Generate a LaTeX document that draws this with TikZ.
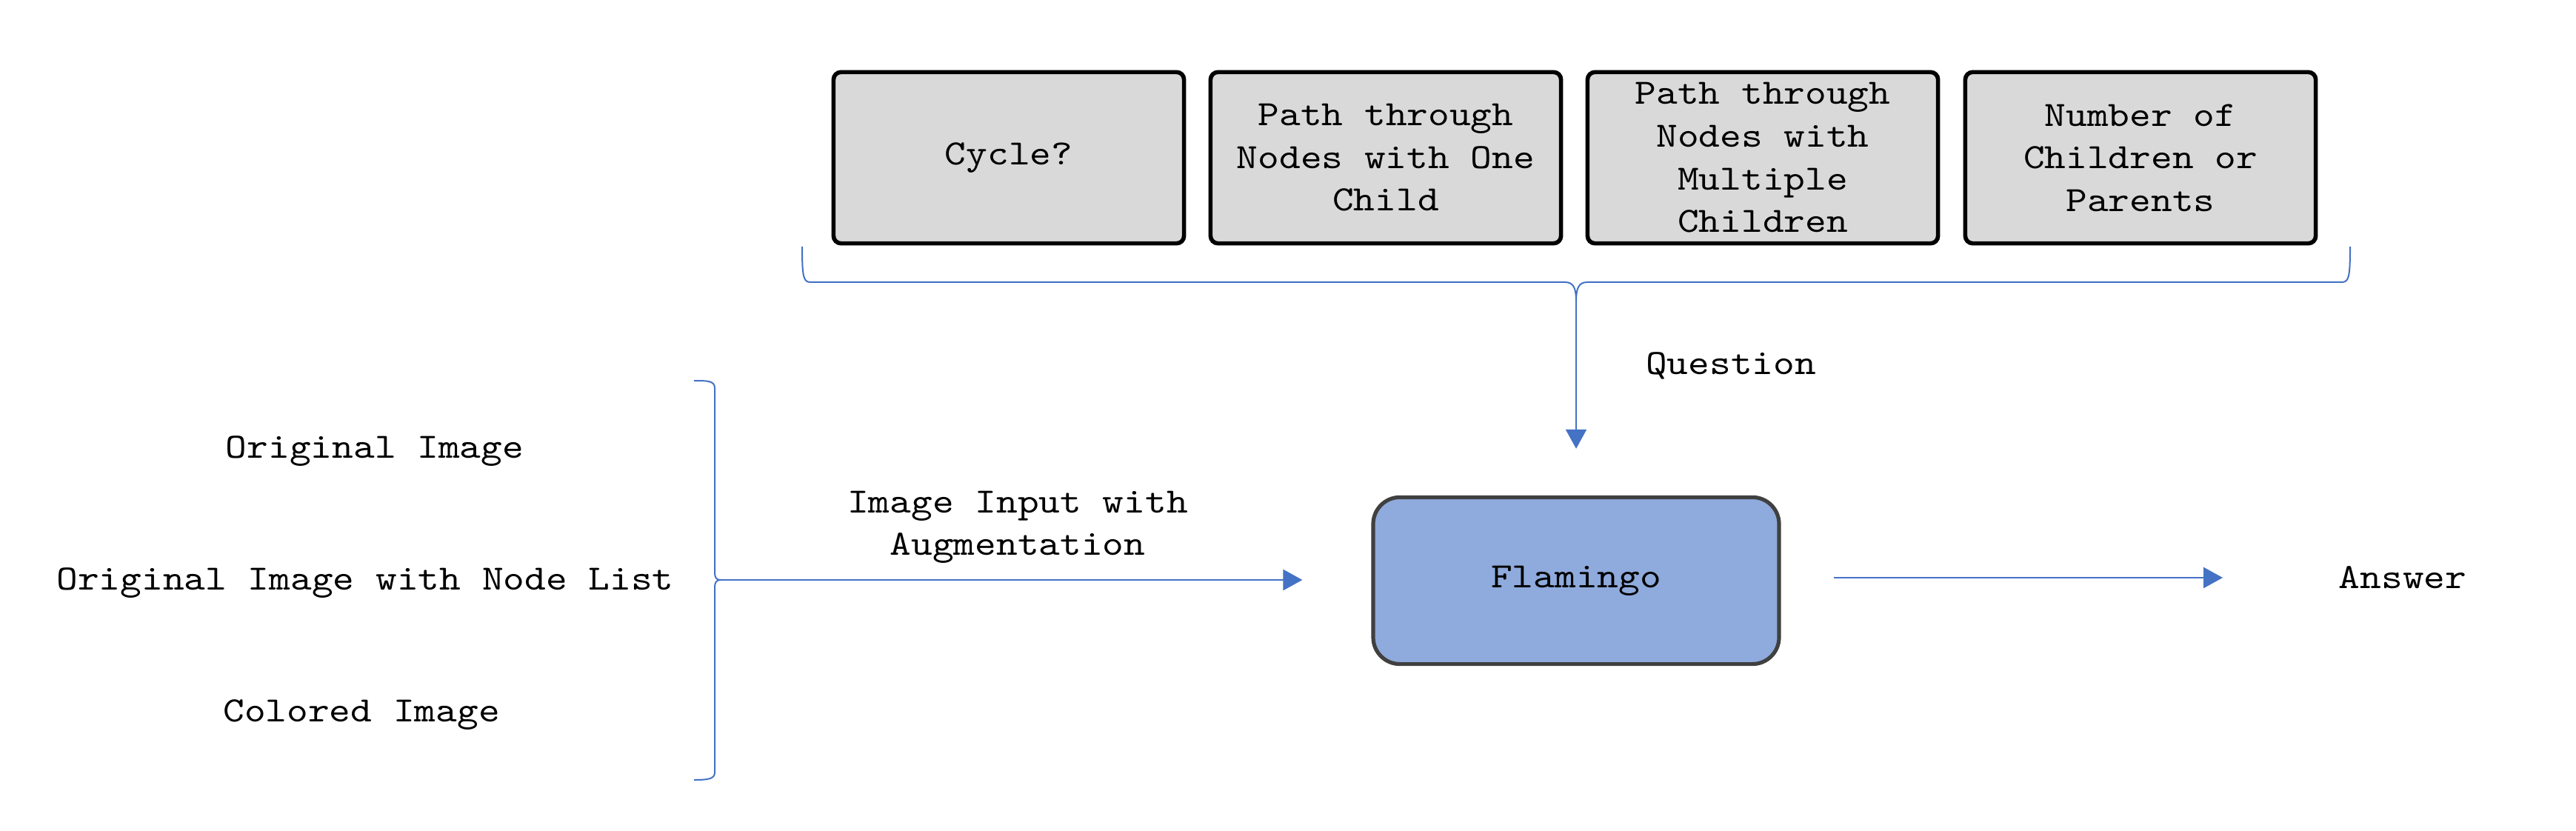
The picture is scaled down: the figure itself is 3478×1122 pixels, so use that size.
\documentclass[tikz,border=0pt]{standalone}
\usepackage{fontspec}
\newfontfamily\courfont[FakeStretch=1.14]{lmmono10-regular.otf}
\usetikzlibrary{arrows.meta}
\definecolor{bl}{HTML}{4472C4}
\definecolor{qgray}{HTML}{D9D9D9}
\definecolor{flfill}{HTML}{8FAADC}
\definecolor{flborder}{HTML}{404040}
\begin{document}
\begin{tikzpicture}[x=0.25pt,y=-0.25pt,
  font=\courfont\fontsize{12}{14.4}\selectfont,
  every node/.style={inner sep=0pt},
  qbox/.style={draw=black, line width=1.4pt, fill=qgray, rounded corners=2.5pt,
    minimum width=118.3pt, minimum height=57.8pt, align=center},
  flbox/.style={draw=flborder, line width=1.3pt, fill=flfill, rounded corners=9pt,
    minimum width=137pt, minimum height=56.3pt, align=center},
  lbl/.style={align=center},
  arr/.style={draw=bl, line width=0.6pt, -{Triangle[length=6.5pt,width=7pt]}},
  bracep/.style={draw=bl, line width=0.5pt}]
\useasboundingbox (0,0) rectangle (3478,1122);

% question type boxes
\node[qbox] (q1) at (1362,213) {Cycle?};
\node[qbox] (q2) at (1871,213) {Path through\\Nodes with One\\Child};
\node[qbox] (q3) at (2380,213) {Path through\\Nodes with\\Multiple\\Children};
\node[qbox] (q4) at (2890,213) {Number of\\Children or\\Parents};

% top brace
\coordinate (bt) at (2128,407);
\draw[bracep] (1083,333) .. controls (1083,376) and (1085,381) .. (1095,381)
  -- (2113,381) .. controls (2125,381) and (2128,390) .. (bt)
  .. controls (2128,390) and (2131,381) .. (2143,381)
  -- (3161,381) .. controls (3171,381) and (3173,376) .. (3173,333);

% model
\node[flbox] (fm) at (2128,784) {Flamingo};
\node[lbl] (ql) at (2337,494) {Question};
\draw[arr, shorten >=15.75pt] (bt) -- (fm.north);

% left inputs
\node[lbl] (o1) at (506,609) {Original Image};
\node[lbl] (o2) at (493,787) {Original Image with Node List};
\node[lbl] (o3) at (488,965) {Colored Image};

% left brace
\coordinate (lt) at (973,783);
\draw[bracep] (937,514) .. controls (955,514) and (965,514) .. (965,524)
  -- (965,772) .. controls (965,780) and (967,783) .. (lt)
  .. controls (967,783) and (965,786) .. (965,794)
  -- (965,1043) .. controls (965,1052) and (955,1053) .. (937,1053);

\node[lbl] (ia) at (1374,712) {Image Input with\\Augmentation};
\draw[arr, shorten >=23.25pt] (lt) -- (fm.west |- lt);

% answer
\node[lbl] (an) at (3244,780) {Answer};
\draw[arr, shorten <=17.75pt, shorten >=39pt] (fm.east |- an.west) -- (an.west);
\end{tikzpicture}
\end{document}
